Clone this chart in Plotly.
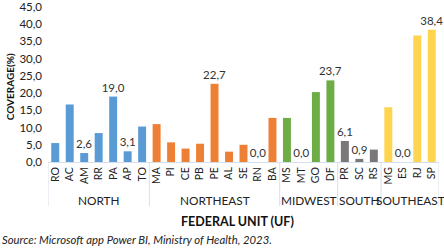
import plotly.graph_objects as go

states = ["RO", "AC", "AM", "RR", "PA", "AP", "TO",
          "MA", "PI", "CE", "PB", "PE", "AL", "SE", "RN", "BA",
          "MS", "MT", "GO", "DF",
          "PR", "SC", "RS",
          "MG", "ES", "RJ", "SP"]
coverage = [5.5, 16.7, 2.6, 8.4, 19.0, 3.1, 10.3,
            11.0, 5.7, 3.9, 5.3, 22.7, 3.0, 5.0, 0.0, 12.8,
            12.8, 0.0, 20.3, 23.7,
            6.1, 0.9, 3.6,
            15.9, 0.0, 36.7, 38.4]
labelled = ["AM", "PA", "AP", "PE", "RN", "MT", "DF", "PR", "SC", "ES", "SP"]
regions = ["NORTH", "NORTHEAST", "MIDWEST", "SOUTH", "SOUTHEAST"]
region_sizes = [7, 9, 4, 3, 4]
region_colors = ["#5B9BD5", "#EE8035", "#6EAD45", "#7A7878", "#FFD54F"]
y_ticks = [0, 5, 10, 15, 20, 25, 30, 35, 40, 45]
y_ticktext = ["0,0", "5,0", "10,0", "15,0", "20,0", "25,0", "30,0", "35,0", "40,0", "45,0"]

FONT = "Lato"
colors = []
for c, n in zip(region_colors, region_sizes):
    colors += [c] * n
texts = [f"{v:.1f}".replace(".", ",") if s in labelled else "" for s, v in zip(states, coverage)]

fig = go.Figure(go.Bar(
    x=states, y=coverage, marker=dict(color=colors, line=dict(width=0)),
    text=texts, textposition="outside", cliponaxis=False,
    textfont=dict(family=FONT, size=11.5, color="#333333"),
    hoverinfo="skip",
))

lineclr = "#D5E0EC"
starts = [0]
for n in region_sizes:
    starts.append(starts[-1] + n)
for s in starts:
    fig.add_shape(type="line", xref="x", yref="paper", x0=s - 0.5, x1=s - 0.5,
                  y0=0, y1=-0.285, line=dict(color=lineclr, width=1))
for name, a, n in zip(regions, starts, region_sizes):
    fig.add_annotation(text=name, xref="x", yref="paper", x=a + (n - 1) / 2, y=-0.247,
                       showarrow=False, yanchor="middle",
                       font=dict(family=FONT, size=11.8, color="#222222"))

fig.add_annotation(text="<b>FEDERAL UNIT (UF)</b>", xref="paper", yref="paper",
                   x=0.485, y=-0.381, showarrow=False, yanchor="middle",
                   font=dict(family=FONT, size=12.5, color="#111111"))
fig.add_annotation(text="<b>COVERAGE(%)</b>", xref="paper", yref="paper",
                   x=-0.098, y=0.487, textangle=-90, showarrow=False,
                   xanchor="center", yanchor="middle",
                   font=dict(family=FONT, size=10, color="#111111"))
fig.add_annotation(text="<i>Source: Microsoft app Power BI, Ministry of Health, 2023.</i>",
                   xref="paper", yref="paper", x=-0.123, y=-0.5, xanchor="left",
                   yanchor="middle", showarrow=False,
                   font=dict(family=FONT, size=11.3, color="#222222"))

fig.update_layout(
    width=444, height=250,
    margin=dict(l=48, r=5, t=6.5, b=87.5, autoexpand=False),
    plot_bgcolor="white", paper_bgcolor="white",
    bargap=0.45, showlegend=False,
    uniformtext=dict(minsize=11, mode="show"),
    xaxis=dict(type="category", range=[-0.5, len(states) - 0.5],
               tickangle=-90, showgrid=False, zeroline=False, automargin=False,
               showline=True, linecolor=lineclr, linewidth=1,
               tickfont=dict(family=FONT, size=10.5, color="#222222")),
    yaxis=dict(range=[0, 45], tickvals=y_ticks, ticktext=y_ticktext,
               showgrid=False, zeroline=False, showline=False, automargin=False,
               ticklabelstandoff=5, ticklabeloverflow="allow",
               tickfont=dict(family=FONT, size=11.5, color="#222222")),
)

fig.write_html("out.html", config={"displayModeBar": False},
               post_script="document.body.style.margin='0';document.body.style.overflow='hidden';")
